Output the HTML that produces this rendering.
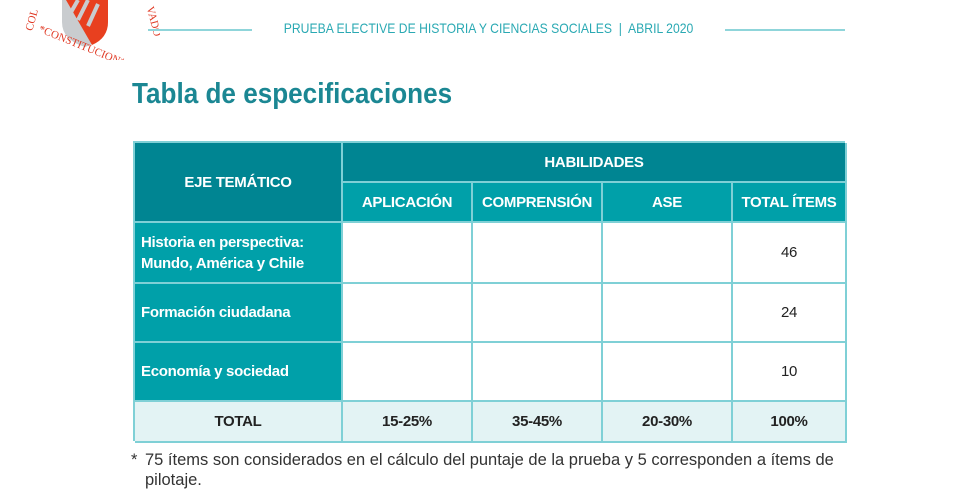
<!DOCTYPE html>
<html><head><meta charset="utf-8"><style>
body{margin:0;width:960px;height:500px;background:#fff;position:relative;overflow:hidden;font-family:"Liberation Sans Narrow","Liberation Sans",sans-serif;}
.a{position:absolute;box-sizing:border-box;}
.c{display:flex;align-items:center;justify-content:center;text-align:center;font-weight:bold;font-size:15px;letter-spacing:-0.3px;}
.h1{background:#008592;color:#fff;}
.h2{background:#00a0a9;color:#fff;}
.w{background:#fff;color:#222;font-weight:normal;}
.t{background:#e3f3f4;color:#222;}
.l{justify-content:flex-start;text-align:left;padding-left:6px;background:#00a0a9;color:#fff;line-height:21px;}
.b{border-right:2px solid #7fd0d6;border-bottom:2px solid #7fd0d6;}
</style></head><body>
<svg class="a" style="left:0;top:0" width="160" height="60" viewBox="0 0 160 60">
<path d="M62 0 L108 0 L108 22 Q108 40 85 47 Q62 40 62 22 Z" fill="#c9cccf"/>
<path d="M66 0 L108 0 L108 22 Q108 38 92 45 Z" fill="#e8401f"/>
<path d="M70 14 L78 0 M78 20 L88 0 M88 26 L98 4" stroke="#c9cccf" stroke-width="4"/>
<text x="38" y="48" font-family="Liberation Serif" font-size="11" fill="#e03a25" transform="rotate(22 80 40)">*CONSTITUCION*</text>
<text x="22" y="30" font-family="Liberation Serif" font-size="11" fill="#e03a25" transform="rotate(-75 28 24)">COL</text>
<text x="134" y="4" font-family="Liberation Serif" font-size="11" fill="#e03a25" transform="rotate(75 138 14)">VADO</text>
</svg>
<div class="a" style="left:148px;top:29px;width:104px;height:2px;background:#8fd5da"></div>
<div class="a" style="left:725px;top:29px;width:120px;height:2px;background:#8fd5da"></div>
<div class="a" style="left:252px;top:20px;width:473px;text-align:center;font-size:14px;color:#2aa9b3;font-family:'Liberation Sans',sans-serif;transform:scaleX(0.87)">PRUEBA ELECTIVE DE HISTORIA Y CIENCIAS SOCIALES &nbsp;|&nbsp; ABRIL 2020</div>
<div class="a" style="left:132px;top:78px;font-size:29px;font-weight:bold;color:#1b8793;transform:scaleX(0.9);transform-origin:0 0">Tabla de especificaciones</div>

<div class="a" style="left:133px;top:141px;width:712px;height:300px;border-left:2px solid #7fd0d6;border-top:2px solid #7fd0d6">
<div class="a c h1 b" style="left:0;top:0;width:208px;height:80px">EJE TEMÁTICO</div>
<div class="a c h1 b" style="left:208px;top:0;width:504px;height:40px">HABILIDADES</div>
<div class="a c h2 b" style="left:208px;top:40px;width:130px;height:40px">APLICACIÓN</div>
<div class="a c h2 b" style="left:338px;top:40px;width:130px;height:40px">COMPRENSIÓN</div>
<div class="a c h2 b" style="left:468px;top:40px;width:130px;height:40px">ASE</div>
<div class="a c h2 b" style="left:598px;top:40px;width:114px;height:40px">TOTAL ÍTEMS</div>

<div class="a c l b" style="left:0;top:80px;width:208px;height:61px">Historia en perspectiva:<br>Mundo, América y Chile</div>
<div class="a c w b" style="left:208px;top:80px;width:130px;height:61px"></div>
<div class="a c w b" style="left:338px;top:80px;width:130px;height:61px"></div>
<div class="a c w b" style="left:468px;top:80px;width:130px;height:61px"></div>
<div class="a c w b" style="left:598px;top:80px;width:114px;height:61px">46</div>

<div class="a c l b" style="left:0;top:141px;width:208px;height:59px">Formación ciudadana</div>
<div class="a c w b" style="left:208px;top:141px;width:130px;height:59px"></div>
<div class="a c w b" style="left:338px;top:141px;width:130px;height:59px"></div>
<div class="a c w b" style="left:468px;top:141px;width:130px;height:59px"></div>
<div class="a c w b" style="left:598px;top:141px;width:114px;height:59px">24</div>

<div class="a c l b" style="left:0;top:200px;width:208px;height:59px">Economía y sociedad</div>
<div class="a c w b" style="left:208px;top:200px;width:130px;height:59px"></div>
<div class="a c w b" style="left:338px;top:200px;width:130px;height:59px"></div>
<div class="a c w b" style="left:468px;top:200px;width:130px;height:59px"></div>
<div class="a c w b" style="left:598px;top:200px;width:114px;height:59px">10</div>

<div class="a c t b" style="left:0;top:259px;width:208px;height:41px">TOTAL</div>
<div class="a c t b" style="left:208px;top:259px;width:130px;height:41px">15-25%</div>
<div class="a c t b" style="left:338px;top:259px;width:130px;height:41px">35-45%</div>
<div class="a c t b" style="left:468px;top:259px;width:130px;height:41px">20-30%</div>
<div class="a c t b" style="left:598px;top:259px;width:114px;height:41px">100%</div>
</div>

<div class="a" style="left:133px;top:450px;width:715px;font-size:16.5px;line-height:20px;color:#333">
<span style="position:absolute;left:-2px;top:0">*</span><div style="padding-left:12px">75 ítems son considerados en el cálculo del puntaje de la prueba y 5 corresponden a ítems de pilotaje.</div></div>
</body></html>
